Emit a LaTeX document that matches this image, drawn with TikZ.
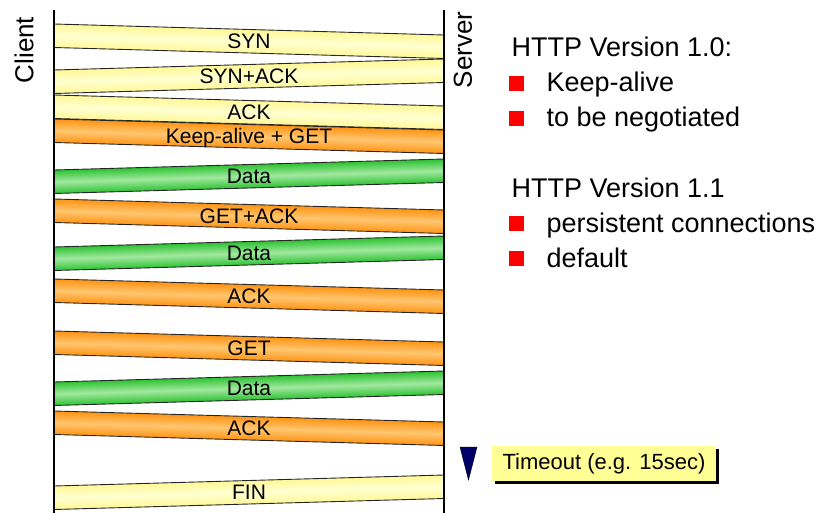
\documentclass[tikz,border=0pt]{standalone}
\usepackage{fontspec}
\setmainfont{Liberation Sans}
\usepackage{tikz}
\usetikzlibrary{shadows}

\definecolor{paleyellow}{RGB}{255,255,210}
\definecolor{edgeyellow}{RGB}{255,248,150}
\definecolor{paleorange}{RGB}{255,198,112}
\definecolor{edgeorange}{RGB}{255,148,20}
\definecolor{palegreen}{RGB}{162,232,160}
\definecolor{edgegreen}{RGB}{45,195,50}
\definecolor{notebox}{RGB}{255,255,150}
\definecolor{marknavy}{RGB}{0,0,105}

\tikzset{
    yellowband/.style={top color=edgeyellow, bottom color=edgeyellow, middle color=paleyellow},
    orangeband/.style={top color=edgeorange, bottom color=edgeorange, middle color=paleorange},
    greenband/.style={top color=edgegreen, bottom color=edgegreen, middle color=palegreen},
    bandedge/.style={draw=black!85, line width=0.9pt},
    bandlabel/.style={anchor=base, font=\fontsize{21}{25}\selectfont},
    hostlabel/.style={rotate=90, font=\fontsize{26}{30}\selectfont},
    heading/.style={anchor=base west, font=\fontsize{27}{32}\selectfont},
    bulletsq/.style={fill=red, minimum size=15pt, inner sep=0pt},
    lifeline/.style={line width=1.8pt},
    timeoutbox/.style={fill=notebox, minimum width=224pt, minimum height=35pt, inner sep=0pt,
        font=\fontsize{22}{26}\selectfont,
        drop shadow={shadow xshift=3pt, shadow yshift=-3pt, fill=black, opacity=1}},
}

\begin{document}
\begin{tikzpicture}[x=1pt,y=-1pt]
    \useasboundingbox (0,0) rectangle (832,513);
    % Draw the messages as slanted bands between client and server
    \foreach \yl/\yr/\kind/\name/\txt in {24/35/yellowband/syn/SYN,
        70/59/yellowband/synack/SYN+ACK, 95/106/yellowband/ack/ACK,
        119/130/orangeband/kget/Keep-alive + GET, 170/159/greenband/data1/Data,
        199/210/orangeband/getack/GET+ACK, 247/236/greenband/data2/Data,
        279/290/orangeband/ack2/ACK, 331/342/orangeband/get/GET,
        382/371/greenband/data3/Data, 411/422/orangeband/ack3/ACK,
        486/475/yellowband/fin/FIN}{
        \pgfmathsetmacro{\slant}{(\yl-\yr)/390}
        \pgfmathsetmacro{\ymid}{(\yl+\yr)/2+19}
        \begin{scope}[transform canvas={shift={(54,\yl)}, cm={1,\slant,0,1,(0,0)}}]
            \shade[\kind] (0,0) rectangle (390,23.5);
            \draw[bandedge] (0,0) -- (390,0) (0,23.5) -- (390,23.5);
        \end{scope}
        \node[bandlabel] (\name) at (249,\ymid) {\txt};
    }
    % Draw the client and server lines
    \coordinate (client top) at (54,10);
    \coordinate (client end) at (54,513);
    \coordinate (server top) at (444,10);
    \coordinate (server end) at (444,513);
    \draw[lifeline] (client top) -- (client end);
    \draw[lifeline] (server top) -- (server end);
    \node[hostlabel] (client) at (24,50) {Client};
    \node[hostlabel] (server) at (463,50) {Server};
    % Notes on the versions
    \node[heading] (v10) at (508,57) {HTTP Version 1.0:};
    \node[heading] (v11) at (508,197) {HTTP Version 1.1};
    \foreach \yb/\name/\txt in {92/keep/Keep-alive, 127/nego/to be negotiated,
        232/pers/persistent connections, 267/dflt/default}{
        \node[bulletsq] (\name sq) at (516.5,\yb-8.5) {};
        \node[heading] (\name) at (543,\yb) {\txt};
    }
    % Timeout
    \node[timeoutbox] (timeout) at (604,463.5) {Timeout (e.g. 15sec)};
    \draw[fill=marknavy, draw=black] (460,447) -- (477,447) -- (468.5,480) -- cycle;
\end{tikzpicture}
\end{document}
